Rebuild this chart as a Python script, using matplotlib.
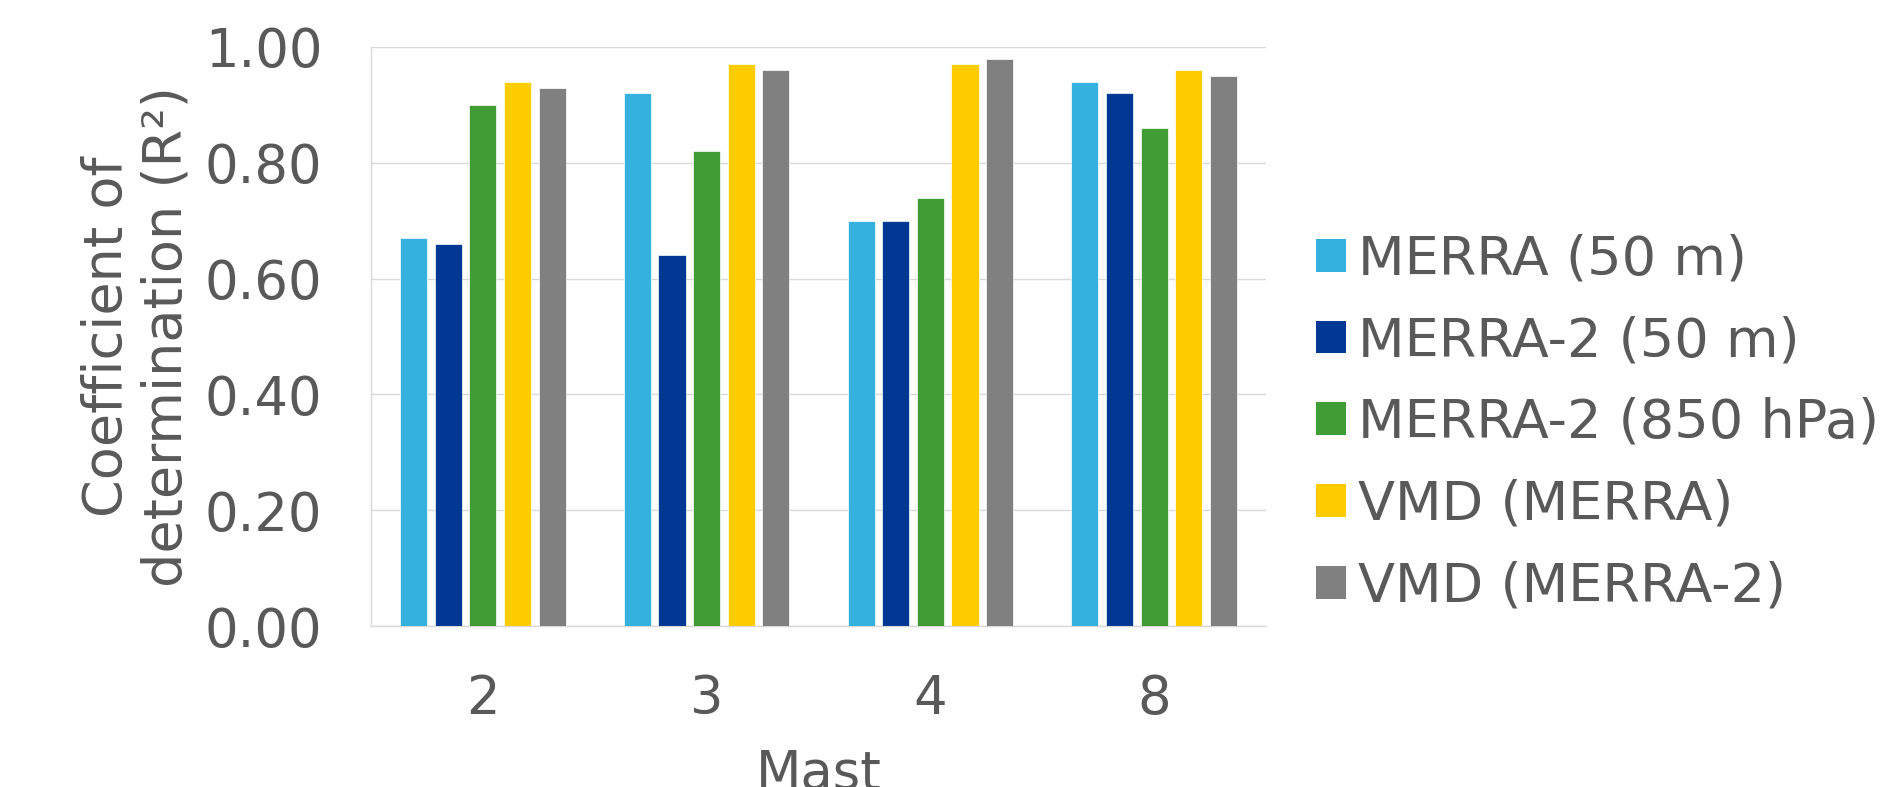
import matplotlib
matplotlib.use("Agg")
import matplotlib.pyplot as plt
from matplotlib.patches import Patch
import numpy as np

# Data: coefficient of determination per mast and data source
masts = ["2", "3", "4", "8"]
series_names = [
    "MERRA (50 m)",
    "MERRA-2 (50 m)",
    "MERRA-2 (850 hPa)",
    "VMD (MERRA)",
    "VMD (MERRA-2)",
]
merra_50m = [0.67, 0.92, 0.70, 0.94]
merra2_50m = [0.66, 0.64, 0.70, 0.92]
merra2_850hpa = [0.90, 0.82, 0.74, 0.86]
vmd_merra = [0.94, 0.97, 0.97, 0.96]
vmd_merra2 = [0.93, 0.96, 0.98, 0.95]
yticks = [0.0, 0.2, 0.4, 0.6, 0.8, 1.0]

series_values = [merra_50m, merra2_50m, merra2_850hpa, vmd_merra, vmd_merra2]
colors = ["#35B1E0", "#003893", "#409C35", "#FFCC00", "#808080"]

text_color = "#595959"
grid_color = "#D9D9D9"
plt.rcParams["font.family"] = ["DejaVu Sans"]

W, H = 1888, 787
fig = plt.figure(figsize=(W / 100, H / 100), dpi=100)
ax = fig.add_axes([371 / W, 1 - 626 / H, (1266 - 371) / W, (626 - 47) / H])

x = np.arange(len(masts))
slot = 0.1546
bar_w = 0.121
n = len(series_values)
for i, (vals, col) in enumerate(zip(series_values, colors)):
    offs = (i - (n - 1) / 2) * slot
    ax.bar(x + offs, vals, width=bar_w, color=col, edgecolor="white",
           linewidth=0.5, zorder=3)

ax.set_xlim(-0.5, len(masts) - 0.5)
ax.set_ylim(0, 1.0)
ax.set_yticks(yticks)
ax.set_yticklabels([f"{v:.2f}" for v in yticks])
ax.set_xticks(x)
ax.set_xticklabels(masts)

ax.grid(axis="y", color=grid_color, linewidth=1.0, zorder=0)
ax.set_axisbelow(True)
for side in ["top", "right"]:
    ax.spines[side].set_visible(False)
for side in ["left", "bottom"]:
    ax.spines[side].set_color(grid_color)
    ax.spines[side].set_linewidth(1.0)

ax.tick_params(axis="both", length=0, colors=text_color, labelsize=38)
ax.tick_params(axis="y", pad=35)
ax.tick_params(axis="x", pad=34)

ax.set_xlabel("Mast", fontsize=38, color=text_color, va="top")
ax.xaxis.set_label_coords(0.5, -0.2107)

ax.set_ylabel("Coefficient of\ndetermination (R²)", color=text_color,
              fontsize=39, linespacing=1.2, multialignment="center")
ax.yaxis.set_label_coords(-0.199, 0.5)

handles = [Patch(facecolor=c, edgecolor="none") for c in colors]
ax.legend(handles, series_names, loc="center left",
          bbox_to_anchor=(1316 / W, 1 - 423 / H), bbox_transform=fig.transFigure,
          frameon=False, fontsize=39, labelcolor=text_color,
          handlelength=0.553, handleheight=0.553, handletextpad=0.22,
          labelspacing=0.55, borderpad=0, borderaxespad=0)

fig.savefig("out.png", dpi=100)
